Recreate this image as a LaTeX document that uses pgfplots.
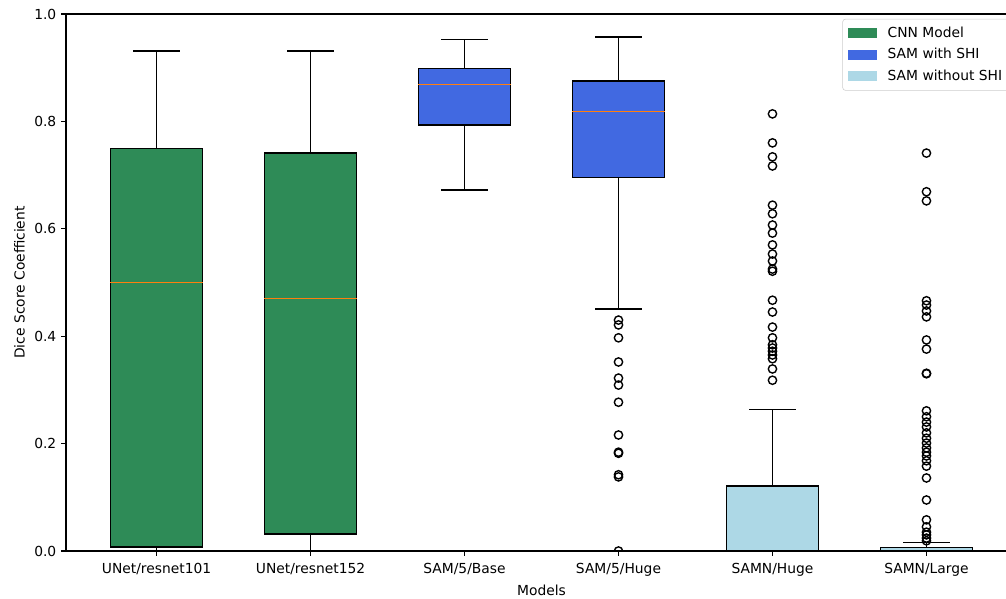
\documentclass[border=0pt]{standalone}
\usepackage{fontspec}
\setmainfont{DejaVu Sans}
\usepackage{pgfplots}
\pgfplotsset{compat=1.18}
\definecolor{cnn}{RGB}{46,139,87}
\definecolor{shi}{RGB}{65,105,225}
\definecolor{noshi}{RGB}{173,216,230}
\definecolor{med}{RGB}{255,127,14}
\begin{document}
\begin{tikzpicture}
\begin{axis}[
  name=ax, scale only axis, width=9.51in, height=5.37in,
  xmin=0.412, xmax=6.588, ymin=0, ymax=1,
  xtick={1,2,3,4,5,6},
  xticklabels={UNet/resnet101,UNet/resnet152,SAM/5/Base,SAM/5/Huge,SAMN/Huge,SAMN/Large},
  ytick={0,0.2,0.4,0.6,0.8,1.0},
  yticklabel style={/pgf/number format/.cd, fixed, fixed zerofill, precision=1, assume math mode=true},
  xticklabel style={yshift=-1.5pt},
  tick align=outside, tick pos=left, major tick length=3.5pt,
  every tick/.style={black, line width=0.8pt},
  axis line style={line width=0.8pt},
  tick label style={font=\fontsize{10}{12}\selectfont},
  label style={font=\fontsize{10}{12}\selectfont},
  xlabel={Models}, ylabel={Dice Score Coefficient},
  axis on top,
  clip marker paths=true,
  legend image code/.code={\fill[#1, draw=none, sharp corners] (0pt,-3.6pt) rectangle (21pt,3.6pt); \path[draw=none, fill=none] (0pt,0pt) -- (27pt,0pt);},
  legend style={at={(rel axis cs:1,1)}, anchor=north east, xshift=-5pt, yshift=-3.5pt,
    draw=black!20, rounded corners=2pt, fill=white, font=\fontsize{10}{12}\selectfont,
    cells={anchor=west}, row sep=2.6pt, inner sep=3.5pt},
]
\addlegendimage{fill=cnn}\addlegendentry{CNN Model}
\addlegendimage{fill=shi}\addlegendentry{SAM with SHI}
\addlegendimage{fill=noshi}\addlegendentry{SAM without SHI}

% ---------- UNet/resnet101 : lw 0, q1 0.0075, med 0.501, q3 0.750, uw 0.931
\addplot[black, line width=1pt] coordinates {(1,0.750) (1,0.931)};
\addplot[black, line width=1pt] coordinates {(0.85,0.931) (1.15,0.931)};
\addplot[black, line width=1pt] coordinates {(1,0.0075) (1,0)};
\addplot[black, line width=1pt] coordinates {(0.85,0) (1.15,0)};
\addplot[draw=black, fill=cnn, line width=1pt] coordinates {(0.7,0.0075) (1.3,0.0075) (1.3,0.750) (0.7,0.750)} -- cycle;
\addplot[med, line width=0.6pt] coordinates {(0.7,0.501) (1.3,0.501)};

% ---------- UNet/resnet152 : lw 0, q1 0.032, med 0.471, q3 0.741, uw 0.931
\addplot[black, line width=1pt] coordinates {(2,0.741) (2,0.931)};
\addplot[black, line width=1pt] coordinates {(1.85,0.931) (2.15,0.931)};
\addplot[black, line width=1pt] coordinates {(2,0.032) (2,0)};
\addplot[black, line width=1pt] coordinates {(1.85,0) (2.15,0)};
\addplot[draw=black, fill=cnn, line width=1pt] coordinates {(1.7,0.032) (2.3,0.032) (2.3,0.741) (1.7,0.741)} -- cycle;
\addplot[med, line width=0.6pt] coordinates {(1.7,0.471) (2.3,0.471)};

% ---------- SAM/5/Base : lw 0.672, q1 0.793, med 0.868, q3 0.899, uw 0.953
\addplot[black, line width=1pt] coordinates {(3,0.899) (3,0.953)};
\addplot[black, line width=1pt] coordinates {(2.85,0.953) (3.15,0.953)};
\addplot[black, line width=1pt] coordinates {(3,0.793) (3,0.672)};
\addplot[black, line width=1pt] coordinates {(2.85,0.672) (3.15,0.672)};
\addplot[draw=black, fill=shi, line width=1pt] coordinates {(2.7,0.793) (3.3,0.793) (3.3,0.899) (2.7,0.899)} -- cycle;
\addplot[med, line width=0.6pt] coordinates {(2.7,0.868) (3.3,0.868)};

% ---------- SAM/5/Huge : lw 0.451, q1 0.696, med 0.819, q3 0.875, uw 0.957
\addplot[black, line width=1pt] coordinates {(4,0.875) (4,0.957)};
\addplot[black, line width=1pt] coordinates {(3.85,0.957) (4.15,0.957)};
\addplot[black, line width=1pt] coordinates {(4,0.696) (4,0.451)};
\addplot[black, line width=1pt] coordinates {(3.85,0.451) (4.15,0.451)};
\addplot[draw=black, fill=shi, line width=1pt] coordinates {(3.7,0.696) (4.3,0.696) (4.3,0.875) (3.7,0.875)} -- cycle;
\addplot[med, line width=0.6pt] coordinates {(3.7,0.819) (4.3,0.819)};

% ---------- SAMN/Huge : lw 0, q1 0, med 0, q3 0.121, uw 0.263
\addplot[black, line width=1pt] coordinates {(5,0.121) (5,0.263)};
\addplot[black, line width=1pt] coordinates {(4.85,0.263) (5.15,0.263)};
\addplot[draw=black, fill=noshi, line width=1pt] coordinates {(4.7,0) (5.3,0) (5.3,0.121) (4.7,0.121)} -- cycle;
\addplot[med, line width=0.6pt] coordinates {(4.7,0) (5.3,0)};

% ---------- SAMN/Large : lw 0, q1 0, med 0, q3 0.006, uw 0.0155
\addplot[black, line width=1pt] coordinates {(6,0.006) (6,0.0155)};
\addplot[black, line width=1pt] coordinates {(5.85,0.0155) (6.15,0.0155)};
\addplot[draw=black, fill=noshi, line width=1pt] coordinates {(5.7,0) (6.3,0) (6.3,0.006) (5.7,0.006)} -- cycle;
\addplot[med, line width=0.6pt] coordinates {(5.7,0) (6.3,0)};

% ---------- outliers
\addplot[only marks, mark=o, mark size=3pt, draw=black, line width=1pt] coordinates {
(4,0.430) (4,0.421) (4,0.397) (4,0.352) (4,0.322) (4,0.309) (4,0.277) (4,0.216) (4,0.184) (4,0.182) (4,0.142) (4,0.138) (4,0.0)
};
\addplot[only marks, mark=o, mark size=3pt, draw=black, line width=1pt] coordinates {
(5,0.814) (5,0.760) (5,0.734) (5,0.717) (5,0.644) (5,0.628) (5,0.607) (5,0.592) (5,0.570) (5,0.553) (5,0.540) (5,0.525) (5,0.521)
(5,0.467) (5,0.445) (5,0.417) (5,0.397) (5,0.384) (5,0.378) (5,0.372) (5,0.365) (5,0.358) (5,0.339) (5,0.318)
};
\addplot[only marks, mark=o, mark size=3pt, draw=black, line width=1pt] coordinates {
(6,0.741) (6,0.669) (6,0.652) (6,0.466) (6,0.458) (6,0.447) (6,0.436) (6,0.393) (6,0.376) (6,0.331) (6,0.330)
(6,0.261) (6,0.250) (6,0.240) (6,0.231) (6,0.220) (6,0.210) (6,0.201) (6,0.192) (6,0.184) (6,0.177) (6,0.168) (6,0.158)
(6,0.136) (6,0.095) (6,0.058) (6,0.045) (6,0.035) (6,0.030) (6,0.024) (6,0.019)
};
\end{axis}
\pgfresetboundingbox
\path ([xshift=-0.66in, yshift=-0.47in]ax.south west) rectangle ([xshift=-0.11in, yshift=0.14in]ax.north east);
\end{tikzpicture}
\end{document}
